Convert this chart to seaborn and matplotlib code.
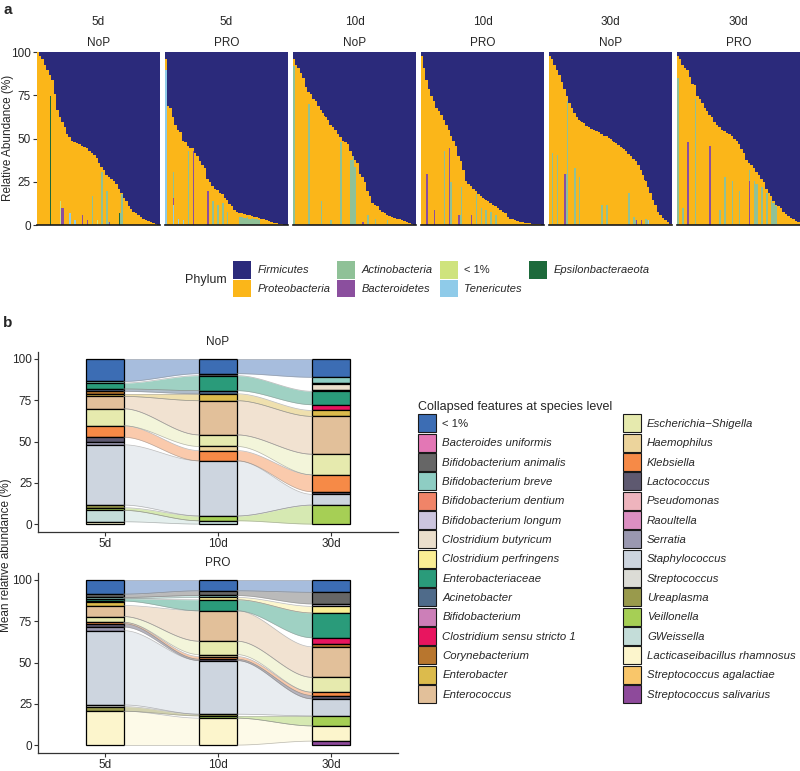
import numpy as np
import pandas as pd
import seaborn as sns
import matplotlib.pyplot as plt
from matplotlib.patches import Patch

sns.set_style("white")
plt.rcParams['font.family'] = ['Liberation Sans', 'DejaVu Sans']

# ---------------- painel a: abundancia relativa por amostra (filo) ----------------
phyla = ["Firmicutes", "Proteobacteria", "Actinobacteria", "Bacteroidetes",
         "< 1%", "Tenericutes", "Epsilonbacteraeota"]
phylum_colors = ["#2b2a7b", "#fbb619", "#8fc197", "#8b4f9e",
                 "#cfe37d", "#8fcbe9", "#1d6a3b"]

facet_time = ["5d", "5d", "10d", "10d", "30d", "30d"]
facet_group = ["NoP", "PRO", "NoP", "PRO", "NoP", "PRO"]

# topo da pilha nao-Firmicutes (%) em cada amostra, ja ordenado
top_5d_nop = [100, 98, 96, 93, 90, 87, 84, 76, 67, 63, 60, 57, 53, 51, 49, 48.5, 47.5, 47, 46, 45.5,
              45, 43, 42, 41, 39, 36, 34, 32, 29, 28, 27, 26, 24, 21, 19, 16, 14, 11, 9.5, 8,
              7, 6, 5, 4, 3, 2.5, 2, 1.3, 1, 0.5]
top_5d_pro = [96, 69, 68, 63, 58, 55, 54, 49, 48, 46, 45, 45, 42, 40, 37, 35, 33, 27, 25, 23,
              21, 20.5, 19, 18, 16, 15, 12.5, 11, 9, 8, 7, 7, 6.5, 6, 6, 5.5, 5, 5, 4.5, 4,
              3.5, 3, 2.5, 2, 1.5, 1.2, 1, 0.8, 0.5, 0.3]
top_10d_nop = [96, 93, 91, 88, 85, 80, 77, 76, 73, 72, 69, 67, 65, 63, 61, 58, 57, 55, 53, 51,
               49, 48, 47, 43, 40, 38, 36, 30, 28, 25, 20, 17, 13, 12, 11, 9, 8, 7, 6, 5.5,
               5, 4.5, 4, 3.5, 3, 2.5, 2, 1.5, 1, 0.5]
top_10d_pro = [98, 91, 84, 79, 75, 72, 68, 66, 64, 61, 58, 55, 52, 49, 46, 40, 37, 32, 26, 24,
               23, 21, 20, 18, 17, 16, 15, 14, 13, 12, 11, 10, 9, 8, 7, 5, 4, 3.5, 3, 2.5,
               2.2, 2, 1.5, 1.3, 1.2, 1, 0.9, 0.8, 0.6, 0.5]
top_30d_nop = [98, 96, 93, 90, 87, 83, 79, 75, 71, 68, 65, 63, 61, 60, 59, 57.5, 57, 56, 55, 54.5,
               54, 53, 52, 51.5, 50.5, 50, 48.5, 47.5, 46.5, 45.5, 44.5, 43, 41.5, 40, 38.5, 37, 35, 32, 29, 26,
               22, 19, 15, 12, 8, 6, 4.5, 3, 2, 1]
top_30d_pro = [98, 96, 93, 91, 90, 86, 82, 81, 75, 73, 71, 68, 66, 64, 63, 60, 58, 57, 55, 54.5,
               53.5, 53, 52, 50, 49, 47, 44, 42, 38, 36, 35, 33, 31, 29, 27, 25, 21, 19, 17, 14,
               12, 11, 10, 8, 6.5, 5.5, 4.5, 3.5, 2.5, 2]

# filos menores: (amostra, filo, valor)
spikes_5d_nop = [(5, "Epsilonbacteraeota", 75), (9, "< 1%", 14), (10, "Bacteroidetes", 10),
                 (13, "Tenericutes", 7), (15, "Tenericutes", 3), (18, "Bacteroidetes", 6),
                 (20, "Bacteroidetes", 3), (22, "Actinobacteria", 17), (24, "< 1%", 3),
                 (26, "Actinobacteria", 31), (28, "Actinobacteria", 20), (29, "Bacteroidetes", 2),
                 (33, "Epsilonbacteraeota", 7), (34, "Actinobacteria", 18)]
spikes_5d_pro = [(0, "Tenericutes", 90), (3, "Tenericutes", 12), (3, "Bacteroidetes", 4),
                 (3, "Actinobacteria", 15), (5, "Tenericutes", 4), (7, "Tenericutes", 3),
                 (9, "Actinobacteria", 43), (11, "Bacteroidetes", 43), (17, "Bacteroidetes", 20),
                 (19, "Actinobacteria", 14), (21, "Actinobacteria", 12), (23, "Actinobacteria", 13),
                 (25, "Actinobacteria", 8), (30, "Actinobacteria", 5), (31, "Actinobacteria", 5),
                 (32, "Actinobacteria", 4.5), (33, "Actinobacteria", 5), (34, "Actinobacteria", 4),
                 (35, "Actinobacteria", 4.5), (36, "Actinobacteria", 4), (37, "Actinobacteria", 4),
                 (38, "Actinobacteria", 3)]
spikes_10d_nop = [(0, "Actinobacteria", 92), (6, "Actinobacteria", 70), (11, "Actinobacteria", 14),
                  (15, "Actinobacteria", 3), (19, "Actinobacteria", 48), (23, "Actinobacteria", 38),
                  (24, "Actinobacteria", 40), (25, "Actinobacteria", 34), (28, "Bacteroidetes", 2),
                  (30, "Actinobacteria", 6), (33, "Actinobacteria", 4), (38, "Actinobacteria", 3)]
spikes_10d_pro = [(2, "Bacteroidetes", 30), (5, "Bacteroidetes", 9), (9, "Actinobacteria", 43),
                  (11, "Bacteroidetes", 45), (12, "Actinobacteria", 25), (15, "Bacteroidetes", 6),
                  (16, "Actinobacteria", 22), (20, "Bacteroidetes", 6), (22, "Actinobacteria", 18),
                  (24, "Actinobacteria", 10), (26, "Actinobacteria", 9), (28, "Actinobacteria", 8),
                  (30, "Actinobacteria", 6)]
spikes_30d_nop = [(1, "Actinobacteria", 42), (3, "Actinobacteria", 41), (6, "Bacteroidetes", 30),
                  (7, "Actinobacteria", 72), (10, "Actinobacteria", 33), (12, "Actinobacteria", 28),
                  (21, "Actinobacteria", 12), (23, "Actinobacteria", 12), (32, "Actinobacteria", 19),
                  (34, "Actinobacteria", 5), (35, "Bacteroidetes", 3), (37, "Bacteroidetes", 3),
                  (39, "Actinobacteria", 4), (40, "Tenericutes", 3)]
spikes_30d_pro = [(0, "Actinobacteria", 85), (2, "Actinobacteria", 10), (4, "Bacteroidetes", 48),
                  (7, "Actinobacteria", 73), (13, "Bacteroidetes", 46), (17, "Actinobacteria", 9),
                  (19, "Actinobacteria", 28), (22, "Actinobacteria", 26), (25, "Actinobacteria", 20),
                  (29, "Bacteroidetes", 26), (29, "Actinobacteria", 6), (31, "Actinobacteria", 26),
                  (32, "Actinobacteria", 24), (34, "Actinobacteria", 22), (36, "Actinobacteria", 19),
                  (38, "Actinobacteria", 15), (39, "Actinobacteria", 13), (40, "Actinobacteria", 11)]

tops = [top_5d_nop, top_5d_pro, top_10d_nop, top_10d_pro, top_30d_nop, top_30d_pro]
spikes = [spikes_5d_nop, spikes_5d_pro, spikes_10d_nop, spikes_10d_pro, spikes_30d_nop, spikes_30d_pro]

# ---------------- painel b: alluvial por especie ----------------
species = ["< 1%", "Bacteroides uniformis", "Bifidobacterium animalis", "Bifidobacterium breve",
           "Bifidobacterium dentium", "Bifidobacterium longum", "Clostridium butyricum",
           "Clostridium perfringens", "Enterobacteriaceae", "Acinetobacter", "Bifidobacterium",
           "Clostridium sensu stricto 1", "Corynebacterium", "Enterobacter", "Enterococcus",
           "Escherichia\u2212Shigella", "Haemophilus", "Klebsiella", "Lactococcus", "Pseudomonas",
           "Raoultella", "Serratia", "Staphylococcus", "Streptococcus", "Ureaplasma", "Veillonella",
           "GWeissella", "Lacticaseibacillus rhamnosus", "Streptococcus agalactiae",
           "Streptococcus salivarius"]
species_colors = ["#3c6db4", "#e377b5", "#666666", "#8ecdc3", "#f08468", "#ccc5de", "#ebdfcc",
                  "#fbee94", "#2a9b7a", "#4f6b8a", "#cc7fb8", "#e8155f", "#b8762e", "#dcbb4c",
                  "#e2c09a", "#e6eaae", "#ecd49c", "#f68a47", "#5e5970", "#eeb4bd", "#dc8fc2",
                  "#9a98b0", "#cdd5df", "#dcdcd6", "#999a4c", "#a6cf55", "#c4ddd9", "#fcf5cc",
                  "#f9c66a", "#8e4a9b"]
times = ["5d", "10d", "30d"]

nop_5d = [13.6, 0, 0, 1.0, 0, 0, 0, 0, 3.6, 1.4, 0, 0, 1.5, 1.6, 7.5, 10.3, 0, 6.9, 3.0, 0,
          0, 1.6, 36.5, 0, 1.6, 1.6, 6.9, 1.4, 0, 0]
nop_10d = [8.9, 0, 1.2, 0, 0, 0, 0, 0, 9.1, 1.9, 0, 0, 0, 4.2, 20.7, 7.0, 2.5, 6.2, 0, 0,
           0, 0, 33.4, 0, 0, 2.9, 2.0, 0, 0, 0]
nop_30d = [11.1, 0, 0, 3.3, 1.0, 0, 3.2, 1.0, 8.1, 0, 0, 3.5, 0, 3.6, 22.9, 12.5, 0, 10.2, 1.6, 0,
           0, 0, 6.5, 0, 0, 11.5, 0, 0, 0, 0]
pro_5d = [8.6, 0, 2.0, 0.8, 0, 0, 0, 0, 1.4, 0.7, 0, 0, 0, 2.0, 6.7, 3.5, 0, 0.8, 2.0, 0,
          0, 2.2, 45.0, 1.0, 2.8, 0, 0, 20.5, 0, 0]
pro_10d = [6.6, 0, 2.8, 1.2, 0, 0, 0, 1.4, 6.7, 0, 0, 0, 0, 0, 18.4, 8.1, 1.2, 1.6, 0.8, 0,
           0, 0, 32.5, 0, 1.0, 1.4, 0, 16.3, 0, 0]
pro_30d = [7.5, 0, 7.0, 0, 0, 1.5, 0, 4.0, 15.0, 0, 0, 4.0, 1.5, 0, 18.5, 9.0, 0, 2.0, 2.0, 0,
           0, 0, 10.3, 0, 0, 6.1, 0, 9.2, 0, 2.4]


def phylum_table(top, spk):
    """Monta a tabela longa (amostra, filo, abundancia) de uma faceta."""
    top = np.array(top, dtype=float)
    minor = {p: np.zeros(len(top)) for p in phyla[2:]}
    for i, p, v in spk:
        minor[p][i] += v
    cols = {"Firmicutes": 100 - top, "Proteobacteria": top - sum(minor.values())}
    cols.update(minor)
    rows = [(i, p, v) for p in phyla for i, v in enumerate(cols[p])]
    return pd.DataFrame(rows, columns=["sample", "phylum", "abund"])


def draw_alluvial(ax, cols, title):
    """Desenha estratos empilhados e fluxos entre os tempos."""
    w = 1 / 3
    vals = [np.array(c, dtype=float) for c in cols]
    tops_b = [100 - np.concatenate([[0], np.cumsum(v)[:-1]]) for v in vals]
    for t in range(len(vals) - 1):
        x0, x1 = t + w / 2, t + 1 - w / 2
        xs = np.linspace(x0, x1, 80)
        s = (xs - x0) / (x1 - x0)
        s = s * s * (3 - 2 * s)
        for k, c in enumerate(species_colors):
            if vals[t][k] > 0 and vals[t + 1][k] > 0:
                hi = tops_b[t][k] + (tops_b[t + 1][k] - tops_b[t][k]) * s
                lo_a = tops_b[t][k] - vals[t][k]
                lo_b = tops_b[t + 1][k] - vals[t + 1][k]
                lo = lo_a + (lo_b - lo_a) * s
                ax.fill_between(xs, lo, hi, color=c, alpha=0.45, lw=0)
                ax.plot(xs, hi, color="#8c8c8c", lw=0.5, alpha=0.6)
                ax.plot(xs, lo, color="#8c8c8c", lw=0.5, alpha=0.6)
    for t, v in enumerate(vals):
        m = v > 0
        ax.bar(np.full(m.sum(), t), v[m], bottom=(tops_b[t] - v)[m], width=w,
               color=np.array(species_colors)[m], edgecolor="black", linewidth=0.9)
    ax.set_xlim(-0.59, 2.59)
    ax.set_ylim(-4.8, 104.2)
    ax.set_xticks(range(3))
    ax.set_xticklabels(times)
    ax.set_yticks([0, 25, 50, 75, 100])
    ax.tick_params(labelsize=8.5, length=2.75, width=0.8, color="#333333", pad=1.5,
                   left=True, bottom=True)
    for side in ["top", "right"]:
        ax.spines[side].set_visible(False)
    for side in ["left", "bottom"]:
        ax.spines[side].set_color("#333333")
        ax.spines[side].set_linewidth(0.9)
    ax.text(0.5, 1 + 10 / 180, title, transform=ax.transAxes, ha="center", va="center",
            fontsize=8.5)


fig = plt.figure(figsize=(8, 7.71), dpi=100)
W, H = 800, 771

# ---- painel a ----
for i in range(6):
    ax = fig.add_axes([(37 + i * 128) / W, 1 - 225 / H, 123 / W, 173 / H])
    df = phylum_table(tops[i], spikes[i])
    sns.histplot(data=df, x="sample", weights="abund", hue="phylum", hue_order=phyla,
                 palette=phylum_colors, multiple="stack", discrete=True, shrink=1,
                 linewidth=0, alpha=1, legend=False, antialiased=False, snap=False, ax=ax)
    ax.set_xlim(-0.5, 49.5)
    ax.set_ylim(0, 100)
    ax.set_xlabel("")
    ax.set_ylabel("")
    ax.set_xticks([])
    for side in ["top", "right", "left"]:
        ax.spines[side].set_visible(False)
    ax.spines["bottom"].set_color("#1a1a1a")
    ax.spines["bottom"].set_linewidth(1.2)
    if i == 0:
        ax.set_yticks([0, 25, 50, 75, 100])
        ax.tick_params(axis="y", labelsize=8.5, length=3, width=0.8, color="#333333",
                       pad=1.5, left=True)
    else:
        ax.set_yticks([])
    ax.text(0.5, 1 + 30 / 173, facet_time[i], transform=ax.transAxes, ha="center",
            va="center", fontsize=8.5)
    ax.text(0.5, 1 + 9 / 173, facet_group[i], transform=ax.transAxes, ha="center",
            va="center", fontsize=8.5)

fig.text(8 / W, 1 - 138 / H, "Relative Abundance (%)", rotation=90, ha="center",
         va="center", fontsize=8.5)
fig.text(8 / W, 1 - 10 / H, "a", fontweight="bold", fontsize=11, ha="center", va="center")

handles_a = [Patch(facecolor=c, edgecolor="none") for c in phylum_colors]
leg_a = fig.legend(handles_a, phyla, ncol=4, loc="upper left",
                   bbox_to_anchor=(233 / W, 1 - 261 / H), frameon=False, fontsize=8,
                   handlelength=1.62, handleheight=2.11, labelspacing=0.05,
                   handletextpad=0.6, columnspacing=0.6, borderpad=0, borderaxespad=0)
for txt in leg_a.get_texts():
    if txt.get_text() != "< 1%":
        txt.set_style("italic")
fig.text(206 / W, 1 - 280 / H, "Phylum", ha="center", va="center", fontsize=9)

# ---- painel b ----
ax_nop = fig.add_axes([38 / W, 1 - 532 / H, 360 / W, 180 / H])
draw_alluvial(ax_nop, [nop_5d, nop_10d, nop_30d], "NoP")
ax_pro = fig.add_axes([38 / W, 1 - 753 / H, 360 / W, 180 / H])
draw_alluvial(ax_pro, [pro_5d, pro_10d, pro_30d], "PRO")

fig.text(6 / W, 1 - 555 / H, "Mean relative abundance (%)", rotation=90, ha="center",
         va="center", fontsize=8.5)
fig.text(8 / W, 1 - 323 / H, "b", fontweight="bold", fontsize=11, ha="center", va="center")

handles_b = [Patch(facecolor=c, edgecolor="#1a1a1a", linewidth=0.8) for c in species_colors]
leg_b = fig.legend(handles_b, species, ncol=2, loc="upper left",
                   bbox_to_anchor=(418 / W, 1 - 401 / H), frameon=False, fontsize=8.2,
                   title="Collapsed features at species level", title_fontsize=9,
                   alignment="left", handlelength=1.58, handleheight=2.05,
                   labelspacing=0.12, handletextpad=0.55, columnspacing=4.1,
                   borderpad=0, borderaxespad=0)
for txt in leg_b.get_texts():
    if txt.get_text() != "< 1%":
        txt.set_style("italic")

fig.savefig("out.png", dpi=100)
